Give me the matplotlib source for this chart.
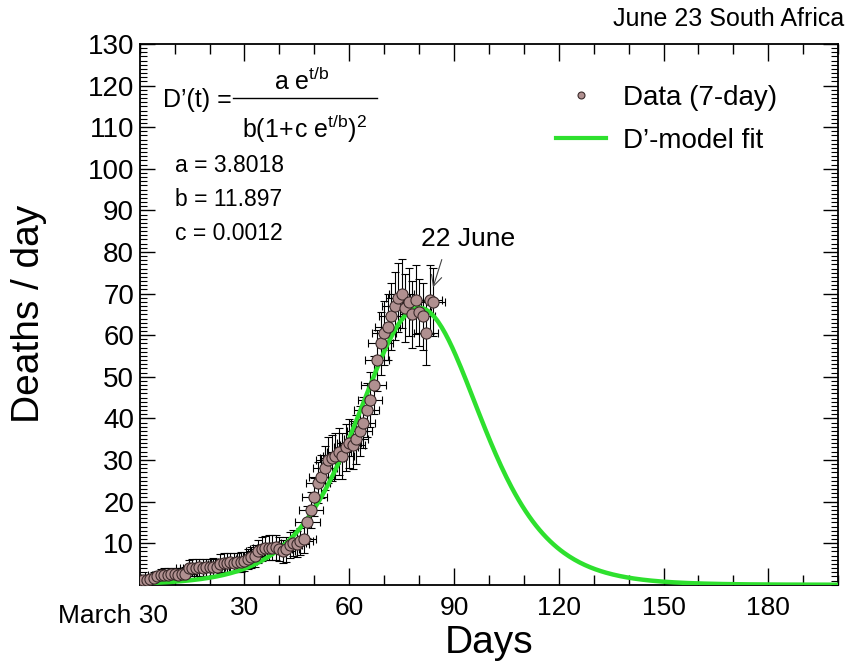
import numpy as np
import matplotlib
matplotlib.use("Agg")
import matplotlib.pyplot as plt
from matplotlib.lines import Line2D
from matplotlib.ticker import MultipleLocator
import matplotlib.transforms as mtransforms

plt.rcParams['font.family'] = ['Liberation Sans', 'DejaVu Sans']
plt.rcParams['mathtext.fontset'] = 'custom'
plt.rcParams['mathtext.rm'] = 'Liberation Sans'
plt.rcParams['mathtext.it'] = 'Liberation Sans'

# 7-day averaged deaths per day, day 0 = March 30
days = list(range(0, 85))
deaths = [1.0, 1.1, 1.1, 1.3, 1.7, 2.0, 2.3, 2.4, 2.4, 2.5, 2.5, 2.4, 2.5, 2.6,
          4.0, 4.1, 4.1, 4.2, 4.1, 4.2, 4.2, 4.3, 4.2, 5.1, 5.3, 5.3, 5.4, 5.3,
          5.4, 5.5, 5.6, 6.2, 6.6, 7.0, 8.0, 8.6, 8.8, 8.9, 8.9, 9.0, 8.6, 8.0,
          8.5, 9.5, 10.0, 9.8, 10.5, 11.0, 15.0, 18.0, 21.0, 24.5, 26.0, 28.0,
          30.0, 30.5, 31.0, 32.0, 31.0, 33.0, 34.0, 33.5, 35.0, 37.0, 39.0,
          42.0, 44.5, 48.0, 54.0, 58.0, 60.5, 62.0, 64.5, 67.0, 69.0, 70.0,
          66.5, 68.0, 65.0, 68.5, 65.5, 64.5, 60.5, 68.5, 68.0]
day_halfwidth = 3.5          # 7-day window
deaths_err = np.sqrt(deaths)

# D'-model fit parameters as printed on the chart
a_par = 3.8018
b_par = 11.897
c_par = 0.0012
t_fit = np.linspace(0, 200, 401)
fit = a_par * np.exp(t_fit / b_par) / (b_par * (1 + c_par * np.exp(t_fit / b_par)) ** 2)

xtick_vals = [30, 60, 90, 120, 150, 180]
ytick_vals = list(range(10, 131, 10))

fig = plt.figure(figsize=(8.57, 6.66), dpi=100)
ax = fig.add_axes([0.163, 0.122, 0.815, 0.812])

ax.errorbar(days, deaths, yerr=deaths_err, xerr=day_halfwidth, fmt='none',
            ecolor='black', elinewidth=0.8, capsize=3, capthick=0.8, zorder=2)
ax.plot(t_fit, fit, color='#2ee02e', lw=3.2, zorder=3)
ax.plot(days, deaths, 'o', ms=8, mfc='#b09090', mec='#3a2a2a', mew=0.8, zorder=4)

ax.set_xlim(0, 200)
ax.set_ylim(0, 130)
ax.set_xticks(xtick_vals)
ax.set_xticklabels([str(v) for v in xtick_vals])
ax.xaxis.set_minor_locator(MultipleLocator(10))
ax.set_yticks(ytick_vals)
ax.yaxis.set_minor_locator(MultipleLocator(1))
ax.tick_params(axis='both', which='both', direction='in', top=True, right=True,
               width=1)
ax.tick_params(axis='x', which='major', length=12, pad=8, labelsize=19)
ax.tick_params(axis='x', which='minor', length=7)
ax.tick_params(axis='y', which='major', length=11, pad=4, labelsize=20)
ax.tick_params(axis='y', which='minor', length=5, width=0.8)
for sp in ax.spines.values():
    sp.set_linewidth(1.3)

ax.set_xlabel('Days', fontsize=28)
ax.xaxis.set_label_coords(0.5, -0.075)
ax.set_ylabel('Deaths / day', fontsize=28)
ax.yaxis.set_label_coords(-0.133, 0.5)

trans = mtransforms.blended_transform_factory(ax.transData, ax.transAxes)
ax.text(8, -0.035, 'March 30', transform=trans, ha='right', va='top', fontsize=19)

fig.text(0.985, 0.972, 'June 23 South Africa', ha='right', va='center', fontsize=18)

# model formula, drawn as a stacked fraction
ax.text(0.033, 0.896, "D\u2019(t) =", transform=ax.transAxes, fontsize=18,
        va='center', ha='left')
ax.plot([0.134, 0.340], [0.900, 0.900], transform=ax.transAxes, color='black',
        lw=1.0)
ax.text(0.232, 0.914, r"$\mathrm{a\ e^{t/b}}$", transform=ax.transAxes,
        fontsize=18, va='baseline', ha='center')
ax.text(0.236, 0.826, r"$\mathrm{b(1\!+\!c\ e^{t/b})^2}$", transform=ax.transAxes,
        fontsize=18, va='baseline', ha='center')

ax.text(0.05, 0.775, 'a = 3.8018', transform=ax.transAxes, fontsize=16.5, va='center')
ax.text(0.05, 0.712, 'b = 11.897', transform=ax.transAxes, fontsize=16.5, va='center')
ax.text(0.05, 0.650, 'c = 0.0012', transform=ax.transAxes, fontsize=16.5, va='center')

ax.annotate('22 June', xy=(84, 71.5), xytext=(80.5, 83), fontsize=19,
            va='center', ha='left',
            arrowprops=dict(arrowstyle='->', color='#444444', lw=0.8,
                            shrinkA=4, shrinkB=0, relpos=(0.25, 0.0)))

handles = [Line2D([], [], ls='none', marker='o', ms=5, mfc='#b09090',
                  mec='#3a2a2a', mew=0.8),
           Line2D([], [], color='#2ee02e', lw=3)]
ax.legend(handles, ['Data (7-day)', "D\u2019-model fit"], loc='upper left',
          bbox_to_anchor=(0.576, 0.95), frameon=False, fontsize=20,
          handlelength=1.8, handletextpad=0.6, labelspacing=0.6, borderpad=0)

fig.savefig('out.png', dpi=100)
